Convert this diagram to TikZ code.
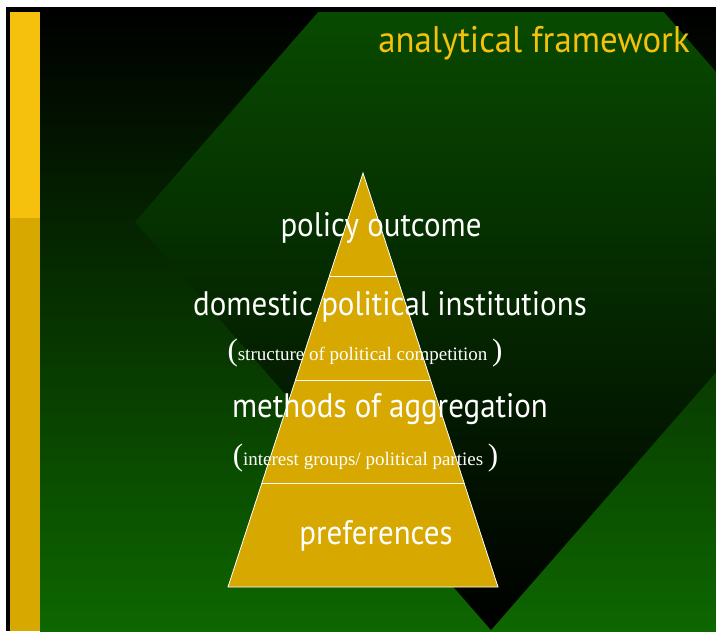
\documentclass[tikz,border=0pt]{standalone}
\usepackage{fontspec}
\setmainfont{Liberation Serif}
\setsansfont{PT Sans}
\newfontfamily\tierfont{PT Sans}[FakeStretch=0.91]
\newfontfamily\headfont{PT Sans}[FakeStretch=0.94]
\usetikzlibrary{calc}

\definecolor{bargold}{HTML}{F5C10C}
\definecolor{deepgold}{HTML}{D6A800}
\definecolor{fieldgreen}{HTML}{0E6700}
\definecolor{midgreen}{HTML}{094C00}
\definecolor{rhombtop}{HTML}{0B6200}
\definecolor{rhombmid}{HTML}{095400}

% large bracket around the small serif notes
\newcommand\bigparen[1]{{\fontsize{31}{34}\selectfont #1}}

\begin{document}
\begin{tikzpicture}[x=1pt, y=-1pt,
  tier/.style={text=white, font=\tierfont\fontsize{34}{40}\selectfont,
               anchor=base, inner sep=0pt},
  aside/.style={text=white, font=\rmfamily\fontsize{19}{23}\selectfont,
                anchor=base, inner sep=0pt},
  heading/.style={text=bargold, font=\headfont\fontsize{37}{42}\selectfont,
                  anchor=base, inner sep=0pt},
  divider/.style={draw=white, line width=0.8pt},
]
  % page, frame and side bar
  \useasboundingbox[fill=white] (0,0) rectangle (716,632);
  \fill[black] (6,7) rectangle (716,631);
  \shade[top color=black, middle color=midgreen, bottom color=fieldgreen]
    (40,12) rectangle (716,631);
  \fill[bargold] (10,12) rectangle (40,218);
  \fill[deepgold] (10,218) rectangle (40,631);

  % big rhombus behind the pyramid
  \begin{scope}
    \clip (40,12) rectangle (716,631);
    \shade[top color=rhombtop, middle color=rhombmid, bottom color=black]
      (135,222) -- (491,-186) -- (847,222) -- (491,630) -- cycle;
  \end{scope}

  \node[heading] (title) at (534,52) {analytical framework};

  % pyramid, cut in four tiers
  \coordinate (apex) at (363,173);
  \coordinate (bl) at (228,587);
  \coordinate (br) at (498,587);
  \fill[deepgold, draw=white, line width=0.8pt] (apex) -- (br) -- (bl) -- cycle;
  \foreach \t in {0.25,0.5,0.75}
    \draw[divider] ($(apex)!\t!(bl)$) -- ($(apex)!\t!(br)$);

  % tier labels
  \node[tier] (outcome) at (381,236) {policy outcome};
  \node[tier] (inst) at (390,315) {domestic political institutions};
  \node[aside] (comp) at (365,360)
    {\bigparen{(}structure of political competition \bigparen{)}};
  \node[tier] (aggr) at (390,417) {methods of aggregation};
  \node[aside] (groups) at (365.5,465)
    {\bigparen{(}interest groups/ political parties \bigparen{)}};
  \node[tier] (pref) at (376,544) {preferences};
\end{tikzpicture}
\end{document}
